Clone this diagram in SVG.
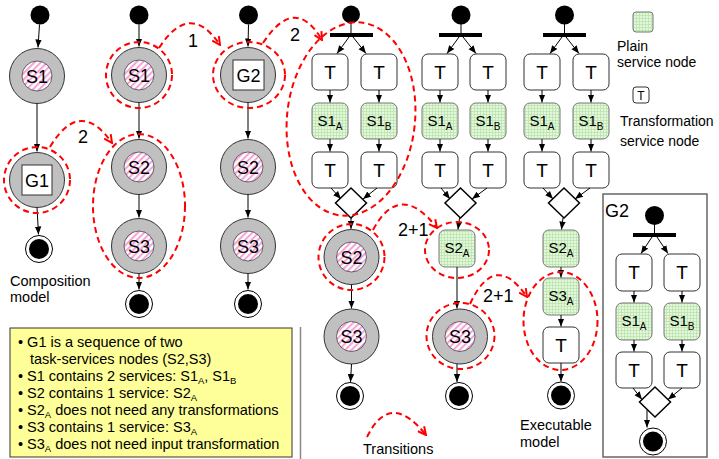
<svg xmlns="http://www.w3.org/2000/svg" width="719" height="459" viewBox="0 0 719 459">
<defs>
<pattern id="hatch" width="4.5" height="4.5" patternUnits="userSpaceOnUse" patternTransform="rotate(45)"><rect width="4.5" height="4.5" fill="#fff"/><rect width="2" height="4.5" fill="#f3a3d6"/></pattern>
<pattern id="grid" width="3" height="3" patternUnits="userSpaceOnUse"><rect width="3" height="3" fill="#e4f7dc"/><path d="M0,0.5H3M0.5,0V3" stroke="#b4e2a6" stroke-width="0.7"/></pattern>
<marker id="ah" viewBox="0 0 8 8" refX="8" refY="4" markerWidth="8" markerHeight="8" markerUnits="userSpaceOnUse" orient="auto"><path d="M0,0.8L8,4L0,7.2z" fill="#000"/></marker>
<marker id="rh" viewBox="0 0 10 10" refX="9" refY="5" markerWidth="10" markerHeight="10" markerUnits="userSpaceOnUse" orient="auto"><path d="M1,1L9,5L1,9" fill="none" stroke="#f00" stroke-width="2" stroke-dasharray="none"/></marker>
</defs>
<style>
text{font-family:"Liberation Sans",Arial,sans-serif;fill:#000}
.o{fill:#c0c0c0;stroke:#333;stroke-width:1}
.i{fill:url(#hatch);stroke:#444;stroke-width:0.8}
.s{font-size:18px;text-anchor:middle}
.bx{fill:#fff;stroke:#333;stroke-width:1}
.t{fill:#fff;stroke:#333;stroke-width:1}
.g{fill:url(#grid);stroke:#777;stroke-width:1}
.tt{font-size:19px;text-anchor:middle}
.gt{font-size:15px;text-anchor:middle}
.st{fill:#000}
.eo{fill:#fff;stroke:#000;stroke-width:1}
.dm{fill:#fff;stroke:#000;stroke-width:1.5}
.a{stroke:#000;stroke-width:1;fill:none;marker-end:url(#ah)}
.ln{stroke:#000;stroke-width:1;fill:none}
.d{fill:none;stroke:#f00;stroke-width:2;stroke-dasharray:6 4}
.r{fill:none;stroke:#f00;stroke-width:2;stroke-dasharray:6 4;marker-end:url(#rh)}
.n{font-size:18px}
.lg{font-size:14px}
.nt{font-size:14.5px}
.sb{font-size:9.5px}
</style>
<rect width="719" height="459" fill="#fff"/>

<!-- Column 1 -->
<g id="c1-start"><circle class="st" cx="40" cy="15" r="9.5"/></g>
<g id="c1-S1"><circle class="o" cx="37" cy="76" r="27.5"/><circle class="i" cx="37" cy="76" r="15"/><text class="s" x="37" y="82.5">S1</text></g>
<g id="c1-G1"><circle class="o" cx="37" cy="180" r="27.5"/><rect class="bx" x="22" y="165" width="30" height="30"/><text class="s" x="37" y="187" font-size="19">G1</text></g>
<g id="c1-end"><circle class="eo" cx="39" cy="249" r="13.5"/><circle class="st" cx="39" cy="249" r="10"/></g>
<g id="c1-label"><text class="nt" x="10" y="285.5">Composition</text><text class="nt" x="10" y="302">model</text></g>

<!-- Column 2 -->
<g id="c2-start"><circle class="st" cx="139" cy="15" r="9.5"/></g>
<g id="c2-S1"><circle class="o" cx="139" cy="75" r="27.5"/><circle class="i" cx="139" cy="75" r="15"/><text class="s" x="139" y="81.5">S1</text></g>
<g id="c2-S2"><circle class="o" cx="139" cy="167" r="27.5"/><circle class="i" cx="139" cy="167" r="15"/><text class="s" x="139" y="173.5">S2</text></g>
<g id="c2-S3"><circle class="o" cx="139" cy="246" r="27.5"/><circle class="i" cx="139" cy="246" r="15"/><text class="s" x="139" y="252.5">S3</text></g>
<g id="c2-end"><circle class="eo" cx="139" cy="304" r="13.5"/><circle class="st" cx="139" cy="304" r="10"/></g>

<!-- Column 3 -->
<g id="c3-start"><circle class="st" cx="248.5" cy="15" r="9.5"/></g>
<g id="c3-G2"><circle class="o" cx="248" cy="75" r="27.5"/><rect class="bx" x="233" y="60" width="31" height="30"/><text class="s" x="248.5" y="82" font-size="19">G2</text></g>
<g id="c3-S2"><circle class="o" cx="248" cy="167" r="27.5"/><circle class="i" cx="248" cy="167" r="15"/><text class="s" x="248" y="173.5">S2</text></g>
<g id="c3-S3"><circle class="o" cx="248" cy="246" r="27.5"/><circle class="i" cx="248" cy="246" r="15"/><text class="s" x="248" y="252.5">S3</text></g>
<g id="c3-end"><circle class="eo" cx="248" cy="304" r="13.5"/><circle class="st" cx="248" cy="304" r="10"/></g>

<!-- Column 4 -->
<g id="c4-start"><circle class="st" cx="351" cy="14.5" r="9"/></g>
<g id="c4-fork"><rect class="st" x="330" y="33" width="43" height="4"/></g>
<g id="c4-T1a"><rect class="t" x="312" y="54" width="36" height="36" rx="6"/><text class="tt" x="330" y="79">T</text></g>
<g id="c4-T1b"><rect class="t" x="361" y="54" width="36" height="36" rx="6"/><text class="tt" x="379" y="79">T</text></g>
<g id="c4-S1A"><rect class="g" x="312" y="103" width="36" height="36" rx="6"/><text class="gt" x="330" y="126">S1<tspan dy="4" font-size="10">A</tspan></text></g>
<g id="c4-S1B"><rect class="g" x="361" y="103" width="36" height="36" rx="6"/><text class="gt" x="379" y="126">S1<tspan dy="4" font-size="10">B</tspan></text></g>
<g id="c4-T2a"><rect class="t" x="312" y="152" width="36" height="36" rx="6"/><text class="tt" x="330" y="177">T</text></g>
<g id="c4-T2b"><rect class="t" x="361" y="152" width="36" height="36" rx="6"/><text class="tt" x="379" y="177">T</text></g>
<g id="c4-join"><polygon class="dm" points="351,188 366.5,203 351,218 335.5,203"/></g>
<g id="c4-S2"><circle class="o" cx="351.5" cy="257" r="27.5"/><circle class="i" cx="351.5" cy="257" r="15"/><text class="s" x="351.5" y="263.5">S2</text></g>
<g id="c4-S3"><circle class="o" cx="351.5" cy="336.5" r="27.5"/><circle class="i" cx="351.5" cy="336.5" r="15"/><text class="s" x="351.5" y="343">S3</text></g>
<g id="c4-end"><circle class="eo" cx="350" cy="396" r="13.5"/><circle class="st" cx="350" cy="396" r="10"/></g>

<!-- Column 5 -->
<g id="c5-start"><circle class="st" cx="461" cy="15" r="9.5"/></g>
<g id="c5-fork"><rect class="st" x="439" y="33" width="43" height="4"/></g>
<g id="c5-T1a"><rect class="t" x="422" y="54" width="36" height="36" rx="6"/><text class="tt" x="440" y="79">T</text></g>
<g id="c5-T1b"><rect class="t" x="470" y="54" width="36" height="36" rx="6"/><text class="tt" x="488" y="79">T</text></g>
<g id="c5-S1A"><rect class="g" x="422" y="103" width="36" height="36" rx="6"/><text class="gt" x="440" y="126">S1<tspan dy="4" font-size="10">A</tspan></text></g>
<g id="c5-S1B"><rect class="g" x="470" y="103" width="36" height="36" rx="6"/><text class="gt" x="488" y="126">S1<tspan dy="4" font-size="10">B</tspan></text></g>
<g id="c5-T2a"><rect class="t" x="422" y="152" width="36" height="36" rx="6"/><text class="tt" x="440" y="177">T</text></g>
<g id="c5-T2b"><rect class="t" x="470" y="152" width="36" height="36" rx="6"/><text class="tt" x="488" y="177">T</text></g>
<g id="c5-join"><polygon class="dm" points="460.5,188 476,203 460.5,218 445,203"/></g>
<g id="c5-S2A"><rect class="g" x="439" y="230" width="36" height="37" rx="6"/><text class="gt" x="457" y="253">S2<tspan dy="4" font-size="10">A</tspan></text></g>
<g id="c5-S3"><circle class="o" cx="460" cy="336.5" r="27.5"/><circle class="i" cx="460" cy="336.5" r="15"/><text class="s" x="460" y="343">S3</text></g>
<g id="c5-end"><circle class="eo" cx="459" cy="396" r="13.5"/><circle class="st" cx="459" cy="396" r="10"/></g>

<!-- Column 6 -->
<g id="c6-start"><circle class="st" cx="564.5" cy="15" r="9.5"/></g>
<g id="c6-fork"><rect class="st" x="543" y="33" width="43" height="4"/></g>
<g id="c6-T1a"><rect class="t" x="524" y="54" width="36" height="36" rx="6"/><text class="tt" x="542" y="79">T</text></g>
<g id="c6-T1b"><rect class="t" x="573" y="54" width="36" height="36" rx="6"/><text class="tt" x="591" y="79">T</text></g>
<g id="c6-S1A"><rect class="g" x="524" y="103" width="36" height="36" rx="6"/><text class="gt" x="542" y="126">S1<tspan dy="4" font-size="10">A</tspan></text></g>
<g id="c6-S1B"><rect class="g" x="573" y="103" width="36" height="36" rx="6"/><text class="gt" x="591" y="126">S1<tspan dy="4" font-size="10">B</tspan></text></g>
<g id="c6-T2a"><rect class="t" x="524" y="152" width="36" height="36" rx="6"/><text class="tt" x="542" y="177">T</text></g>
<g id="c6-T2b"><rect class="t" x="573" y="152" width="36" height="36" rx="6"/><text class="tt" x="591" y="177">T</text></g>
<g id="c6-join"><polygon class="dm" points="564,188 579.5,203 564,218 548.5,203"/></g>
<g id="c6-S2A"><rect class="g" x="543" y="230" width="36" height="37" rx="6"/><text class="gt" x="561" y="253">S2<tspan dy="4" font-size="10">A</tspan></text></g>
<g id="c6-S3A"><rect class="g" x="543" y="278" width="36" height="37" rx="6"/><text class="gt" x="561" y="301">S3<tspan dy="4" font-size="10">A</tspan></text></g>
<g id="c6-T3"><rect class="t" x="543" y="327" width="36" height="36" rx="6"/><text class="tt" x="561" y="352">T</text></g>
<g id="c6-end"><circle class="eo" cx="561" cy="395.5" r="13.5"/><circle class="st" cx="561" cy="395.5" r="10"/></g>
<g id="c6-label"><text class="nt" x="520" y="430">Executable</text><text class="nt" x="520" y="447">model</text></g>

<!-- Legend -->
<g id="legend-plain"><rect class="g" x="633" y="12" width="20" height="20" rx="3"/><text class="lg" x="617" y="51">Plain</text><text class="lg" x="617" y="67">service node</text></g>
<g id="legend-transform"><rect class="t" x="633" y="87" width="16" height="16" rx="3"/><text x="641" y="100" font-size="12" text-anchor="middle">T</text><text class="lg" x="620" y="126">Transformation</text><text class="lg" x="620" y="146">service node</text></g>

<!-- G2 panel -->
<g id="g2-panel">
<rect x="603" y="194" width="104" height="263" fill="#fff" stroke="#666" stroke-width="1.5"/>
<text x="605" y="217" font-size="18">G2</text>
<circle class="st" cx="654.5" cy="215.5" r="9.5"/>
<rect class="st" x="633" y="233" width="43" height="4"/>
<rect class="t" x="616" y="254" width="36" height="37" rx="6"/><text class="tt" x="634" y="279">T</text>
<rect class="t" x="664" y="254" width="36" height="37" rx="6"/><text class="tt" x="682" y="279">T</text>
<rect class="g" x="616" y="303" width="36" height="37" rx="6"/><text class="gt" x="634" y="326">S1<tspan dy="4" font-size="10">A</tspan></text>
<rect class="g" x="664" y="303" width="36" height="37" rx="6"/><text class="gt" x="682" y="326">S1<tspan dy="4" font-size="10">B</tspan></text>
<rect class="t" x="616" y="352" width="36" height="36" rx="6"/><text class="tt" x="634" y="377">T</text>
<rect class="t" x="664" y="352" width="36" height="36" rx="6"/><text class="tt" x="682" y="377">T</text>
<polygon class="dm" points="655,387 670.5,402 655,417 639.5,402"/>
<circle class="eo" cx="653" cy="441.5" r="13.5"/><circle class="st" cx="653" cy="441.5" r="10"/>
<path class="ln" d="M654.5,224V233"/>
<path class="a" d="M652,237L641,253.5"/>
<path class="a" d="M657,237L668,253.5"/>
<path class="a" d="M634,291V302.5"/>
<path class="a" d="M682,291V302.5"/>
<path class="a" d="M634,340V351.5"/>
<path class="a" d="M682,340V351.5"/>
<path class="a" d="M633,388L642,399.5"/>
<path class="a" d="M682,388L668,399.5"/>
<path class="a" d="M647,410V427.5"/>
</g>

<!-- Note -->
<g id="note">
<rect x="10" y="328" width="282" height="129" fill="#ffff99" stroke="#333" stroke-width="1"/>
<text class="nt" x="18" y="347">• G1 is a sequence of two</text>
<text class="nt" x="30" y="364">task-services nodes (S2,S3)</text>
<text class="nt" x="18" y="381">• S1 contains 2 services: S1<tspan class="sb" dy="3">A</tspan><tspan dy="-3">, S1</tspan><tspan class="sb" dy="3">B</tspan></text>
<text class="nt" x="18" y="398">• S2 contains 1 service: S2<tspan class="sb" dy="3">A</tspan></text>
<text class="nt" x="18" y="415">• S2<tspan class="sb" dy="3">A</tspan><tspan dy="-3"> does not need any transformations</tspan></text>
<text class="nt" x="18" y="432">• S3 contains 1 service: S3<tspan class="sb" dy="3">A</tspan></text>
<text class="nt" x="18" y="449">• S3<tspan class="sb" dy="3">A</tspan><tspan dy="-3"> does not need input transformation</tspan></text>
</g>
<line x1="300.5" y1="327" x2="300.5" y2="459" stroke="#888" stroke-width="1.5"/>

<!-- Connectors -->
<g id="connectors">
<path class="a" d="M39.5,24.5L38,47.5"/>
<path class="a" d="M37,103.5V151.5"/>
<path class="a" d="M37,207.5L38.5,234.5"/>
<path class="a" d="M139,24.5V46.5"/>
<path class="a" d="M139,102.5V138.5"/>
<path class="a" d="M139,194.5V217.5"/>
<path class="a" d="M139,273.5V289.5"/>
<path class="a" d="M248.5,24.5L248,46.5"/>
<path class="a" d="M248,102.5V138.5"/>
<path class="a" d="M248,194.5V217.5"/>
<path class="a" d="M248,273.5V289.5"/>

<path class="ln" d="M351,23V33"/>
<path class="a" d="M349,37L337,53.5"/>
<path class="a" d="M353,37L366,53.5"/>
<path class="a" d="M330,90V102.5"/>
<path class="a" d="M379,90V102.5"/>
<path class="a" d="M330,139V151.5"/>
<path class="a" d="M379,139V151.5"/>
<path class="a" d="M331,188L341,199"/>
<path class="a" d="M377,188L363,199"/>
<path class="a" d="M351,218V229"/>
<path class="a" d="M351.5,284.5V308.5"/>
<path class="a" d="M351.5,364L350.5,382"/>

<path class="ln" d="M461,24V33"/>
<path class="a" d="M459,37L447,53.5"/>
<path class="a" d="M463,37L476,53.5"/>
<path class="a" d="M440,90V102.5"/>
<path class="a" d="M488,90V102.5"/>
<path class="a" d="M440,139V151.5"/>
<path class="a" d="M488,139V151.5"/>
<path class="a" d="M441,188L450,199"/>
<path class="a" d="M487,188L472,199"/>
<path class="a" d="M459.5,218L458,229.5"/>
<path class="a" d="M457,267V308.5"/>
<path class="a" d="M457,364V382"/>

<path class="ln" d="M564.5,24V33"/>
<path class="a" d="M562,37L550,53.5"/>
<path class="a" d="M566,37L579,53.5"/>
<path class="a" d="M542,90V102.5"/>
<path class="a" d="M591,90V102.5"/>
<path class="a" d="M542,139V151.5"/>
<path class="a" d="M591,139V151.5"/>
<path class="a" d="M543,188L553,199"/>
<path class="a" d="M590,188L575,199"/>
<path class="a" d="M563,218L561.5,229.5"/>
<path class="a" d="M561,267V277.5"/>
<path class="a" d="M561,315V326.5"/>
<path class="a" d="M561,363V381.5"/>

<!-- red dashed groupings -->
<circle class="d" cx="37" cy="180" r="33"/>
<circle class="d" cx="139" cy="75" r="33"/>
<ellipse class="d" cx="139" cy="206" rx="46" ry="72"/>
<ellipse class="d" cx="249" cy="75" rx="36" ry="33"/>
<ellipse class="d" cx="351" cy="119" rx="64" ry="97" transform="rotate(6 351 119)"/>
<circle class="d" cx="351.5" cy="257" r="33"/>
<ellipse class="d" cx="457" cy="250" rx="32" ry="28"/>
<ellipse class="d" cx="460.5" cy="336" rx="34" ry="33"/>
<ellipse class="d" cx="560.5" cy="321" rx="37" ry="49"/>

<!-- transitions -->
<path class="r" d="M50,147Q80,97 112,143"/>
<path class="r" d="M159,48Q190,0 220,45"/>
<path class="r" d="M263,43Q295,-6 322,40"/>
<path class="r" d="M373,230Q400,180 437,228"/>
<path class="r" d="M470,304Q495,250 527,297"/>
<path class="r" d="M367,437Q390,390 426,435"/>
<text class="n" x="78" y="143">2</text>
<text class="n" x="188" y="47">1</text>
<text class="n" x="290" y="41">2</text>
<text class="n" x="398" y="236">2+1</text>
<text class="n" x="483" y="302">2+1</text>
<text class="nt" x="363" y="454">Transitions</text>
</g>
</svg>
